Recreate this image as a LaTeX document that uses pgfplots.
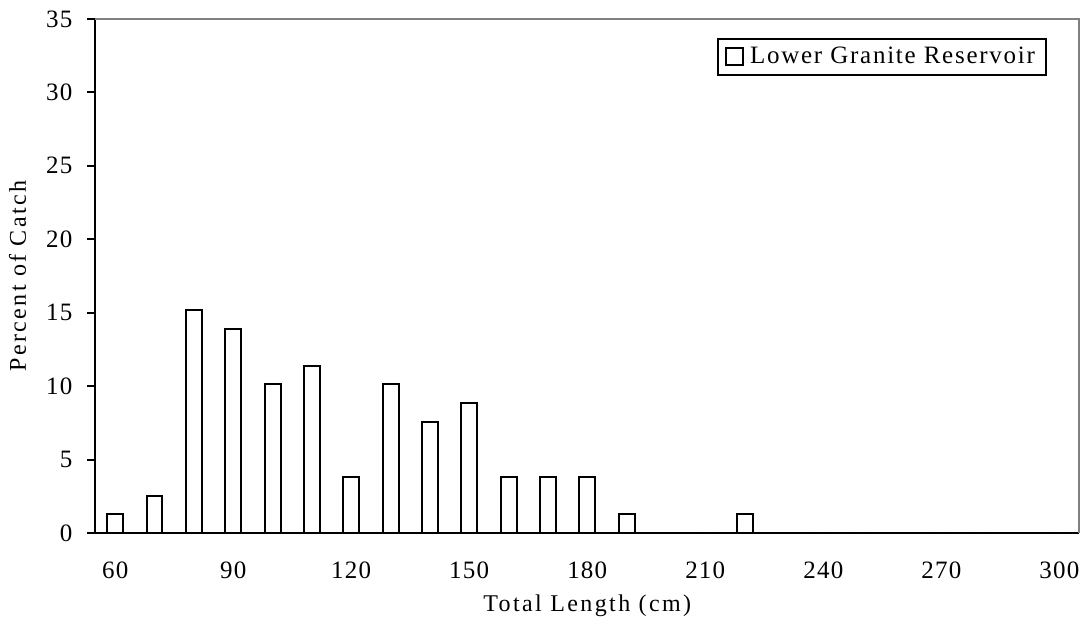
\documentclass[border=0pt]{standalone}
\usepackage{pgfplots}
\pgfplotsset{compat=1.18}
\usepackage{fontspec}
\setmainfont{Liberation Serif}
\begin{document}
\begin{tikzpicture}
\begin{axis}[
  scale only axis,
  width=491.75pt, height=257pt,
  xmin=55, xmax=305, ymin=0, ymax=35,
  axis x line*=bottom, axis y line*=left,
  axis line style={line width=1pt, black, -},
  xtick={60,90,...,300},
  minor xtick={55,65,...,305},
  ytick={0,5,...,35},
  tick align=outside,
  xtick style={draw=none},
  minor tick length=4.5pt,
  major tick length=4pt,
  every tick/.style={line width=1pt, black},
  minor x tick style={line width=1pt, black},
  ytick style={line width=1pt, black},
  /pgf/number format/assume math mode=true,
  ticklabel style={font=\fontsize{12.5pt}{14pt}\selectfont\addfontfeature{LetterSpace=5}},
  xticklabel style={anchor=center, yshift=-14.5pt},
  yticklabel style={anchor=east, xshift=-4pt},
  xlabel={Total Length (cm)},
  ylabel={Percent of Catch},
  label style={font=\fontsize{12pt}{14pt}\selectfont\addfontfeature{LetterSpace=10}},
  xlabel style={at={(axis description cs:0.5,0)}, anchor=center, yshift=-36.5pt},
  ylabel style={at={(axis description cs:0,0.5)}, anchor=center, yshift=39pt},
  ybar, bar width=4.06,
  clip=false,
  legend style={at={(rel axis cs:1,1)}, anchor=north east, xshift=-16pt, yshift=-9.5pt,
    draw=black, line width=1pt, inner xsep=3.5pt, inner ysep=2pt,
    font=\fontsize{12.5pt}{14pt}\selectfont\addfontfeature{LetterSpace=7}},
  legend image code/.code={\draw[line width=0.8pt, fill=white] (0pt,-4.25pt) rectangle (8.5pt,4.25pt); \path (9.5pt,0pt);},
]
\addplot[draw=black, fill=white, line width=1pt] coordinates {
 (60,1.27) (70,2.53) (80,15.19) (90,13.92) (100,10.13) (110,11.39)
 (120,3.80) (130,10.13) (140,7.59) (150,8.86) (160,3.80) (170,3.80)
 (180,3.80) (190,1.27) (200,0) (210,0) (220,1.27) (230,0) (240,0)
 (250,0) (260,0) (270,0) (280,0) (290,0) (300,0)
};
\addlegendentry{Lower Granite Reservoir}
\draw[gray, line width=0.6pt] (rel axis cs:0,1) -- (rel axis cs:1,1) -- (rel axis cs:1,0);
\end{axis}
\pgfresetboundingbox
\path (current axis.south west) ++(-47.75pt,-48pt) coordinate (bl);
\path (current axis.north east) ++(2pt,9.5pt) coordinate (tr);
\path (bl) rectangle (tr);
\end{tikzpicture}
\end{document}
